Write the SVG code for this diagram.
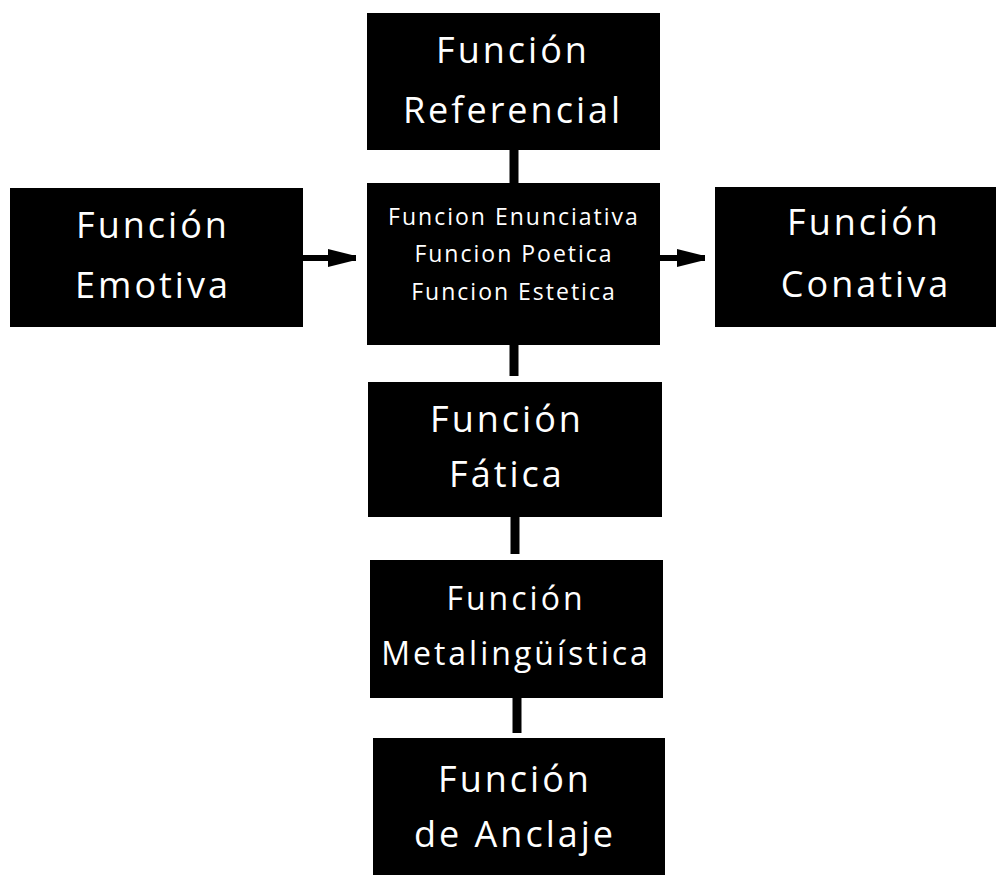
<svg xmlns="http://www.w3.org/2000/svg" width="997" height="875" viewBox="0 0 997 875">
<defs>
<style>
.box{fill:#000;}
.t{font-family:"Open Sans","Noto Sans",sans-serif;fill:#fff;text-anchor:middle;font-size:36px;letter-spacing:3px;}
.s{font-size:32px;}
.m{font-size:23px;letter-spacing:2px;}
.c{stroke:#000;stroke-width:9;fill:none;}
.a{stroke:#000;stroke-width:6;fill:none;}
</style>
<marker id="ah" markerUnits="userSpaceOnUse" markerWidth="30" markerHeight="24" refX="28" refY="12" orient="auto">
<path d="M0,3 L28,10 L28,14 L0,21 Z" fill="#000"/>
</marker>
</defs>
<rect width="997" height="875" fill="#fff"/>
<g id="connectors">
<line class="c" x1="514" y1="150" x2="514" y2="183"/>
<line class="c" x1="514" y1="345" x2="514" y2="376"/>
<line class="c" x1="515" y1="517" x2="515" y2="554"/>
<line class="c" x1="517" y1="698" x2="517" y2="733"/>
<line class="a" x1="303" y1="258" x2="356" y2="258" marker-end="url(#ah)"/>
<line class="a" x1="660" y1="258" x2="705" y2="258" marker-end="url(#ah)"/>
</g>
<g id="referencial">
<rect class="box" x="367" y="13" width="293" height="137"/>
<text class="t" x="513" y="63">Función</text>
<text class="t" x="513" y="123">Referencial</text>
</g>
<g id="emotiva">
<rect class="box" x="10" y="188" width="293" height="139"/>
<text class="t" x="153" y="238">Función</text>
<text class="t" x="153" y="298">Emotiva</text>
</g>
<g id="centro">
<rect class="box" x="367" y="183" width="293" height="162"/>
<text class="t m" x="514" y="225">Funcion Enunciativa</text>
<text class="t m" x="514" y="262">Funcion Poetica</text>
<text class="t m" x="514" y="300">Funcion Estetica</text>
</g>
<g id="conativa">
<rect class="box" x="715" y="187" width="281" height="140"/>
<text class="t" x="864" y="235">Función</text>
<text class="t" x="866" y="297">Conativa</text>
</g>
<g id="fatica">
<rect class="box" x="368" y="382" width="294" height="135"/>
<text class="t" x="507" y="432">Función</text>
<text class="t" x="507" y="487">Fática</text>
</g>
<g id="metalinguistica">
<rect class="box" x="370" y="560" width="293" height="138"/>
<text class="t s" x="516" y="610">Función</text>
<text class="t s" x="516" y="665">Metalingüística</text>
</g>
<g id="anclaje">
<rect class="box" x="373" y="738" width="292" height="137"/>
<text class="t" x="515" y="792">Función</text>
<text class="t" x="515" y="847">de Anclaje</text>
</g>
</svg>
